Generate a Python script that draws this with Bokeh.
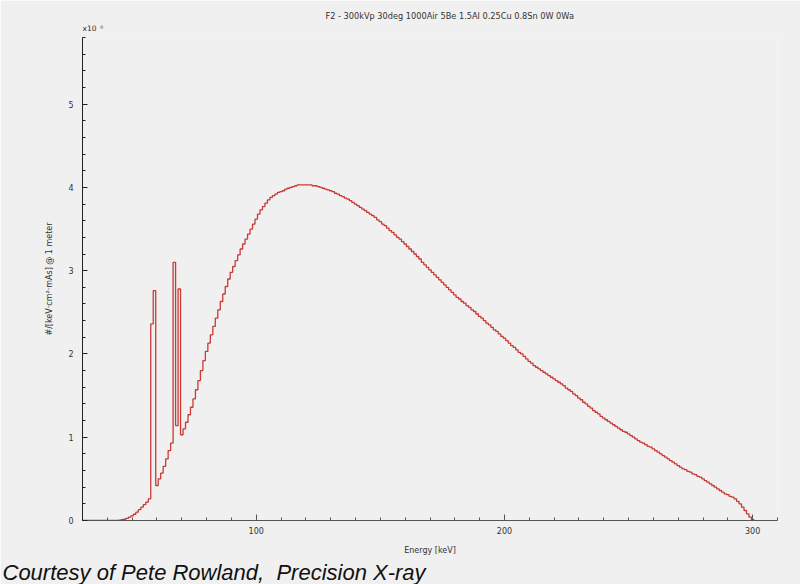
import math
from bokeh.plotting import figure
from bokeh.models import Range1d, SingleIntervalTicker, Title, ColumnDataSource
from bokeh.embed import file_html
from bokeh.resources import INLINE

# ---- data (spectrum, 1 keV bins centred on integer energies; values in units of 1e6) ----
energy_kev = list(range(30, 301))
counts_e6 = (
    [0.0] * 15 +                                                        # 30-44
    [0.005, 0.01, 0.015, 0.025, 0.04, 0.055, 0.075, 0.10, 0.13, 0.16, 0.19, 0.22, 0.26] +  # 45-57
    [2.36, 2.76] +                                                      # 58-59 (K-alpha)
    [0.42, 0.50, 0.57, 0.65, 0.74, 0.84, 0.93] +                        # 60-66
    [3.10, 1.14, 2.78, 1.03] +                                          # 67-70 (K-beta)
    [1.10, 1.18, 1.27, 1.36, 1.46, 1.57, 1.68, 1.80, 1.92, 2.03] +      # 71-80
    [2.13, 2.23, 2.33, 2.43, 2.53, 2.63, 2.72, 2.81, 2.90, 2.98] +      # 81-90
    [3.05, 3.12, 3.19, 3.26, 3.32, 3.38, 3.44, 3.50, 3.56, 3.62] +      # 91-100
    [3.68, 3.73, 3.77, 3.81, 3.85, 3.88, 3.90, 3.92, 3.94, 3.95] +      # 101-110
    [3.96, 3.98, 3.99, 4.00, 4.01, 4.02, 4.03, 4.03, 4.03, 4.03] +      # 111-120
    [4.03, 4.03, 4.02, 4.02, 4.01, 4.00, 3.99, 3.98, 3.97, 3.96] +      # 121-130
    [3.95, 3.93, 3.92, 3.90, 3.89, 3.87, 3.86, 3.84, 3.82, 3.80] +      # 131-140
    [3.78, 3.76, 3.74, 3.72, 3.70, 3.68, 3.66, 3.64, 3.61, 3.59] +      # 141-150
    [3.56, 3.54, 3.51, 3.48, 3.46, 3.43, 3.40, 3.38, 3.35, 3.32] +      # 151-160
    [3.29, 3.26, 3.23, 3.20, 3.17, 3.14, 3.10, 3.07, 3.04, 3.01] +      # 161-170
    [2.98, 2.95, 2.92, 2.89, 2.86, 2.83, 2.80, 2.77, 2.74, 2.71] +      # 171-180
    [2.68, 2.66, 2.63, 2.61, 2.58, 2.56, 2.53, 2.51, 2.48, 2.45] +      # 181-190
    [2.43, 2.40, 2.37, 2.35, 2.32, 2.29, 2.27, 2.24, 2.21, 2.19] +      # 191-200
    [2.16, 2.13, 2.10, 2.08, 2.05, 2.02, 2.00, 1.97, 1.94, 1.91] +      # 201-210
    [1.89, 1.86, 1.84, 1.82, 1.80, 1.78, 1.76, 1.74, 1.72, 1.70] +      # 211-220
    [1.68, 1.66, 1.64, 1.62, 1.59, 1.57, 1.55, 1.52, 1.50, 1.47] +      # 221-230
    [1.45, 1.42, 1.40, 1.37, 1.35, 1.32, 1.30, 1.28, 1.25, 1.23] +      # 231-240
    [1.21, 1.19, 1.17, 1.15, 1.13, 1.11, 1.09, 1.07, 1.06, 1.04] +      # 241-250
    [1.02, 1.00, 0.98, 0.96, 0.94, 0.93, 0.91, 0.89, 0.88, 0.86] +      # 251-260
    [0.84, 0.82, 0.80, 0.78, 0.76, 0.74, 0.72, 0.70, 0.68, 0.66] +      # 261-270
    [0.64, 0.62, 0.61, 0.59, 0.58, 0.56, 0.55, 0.53, 0.52, 0.50] +      # 271-280
    [0.48, 0.46, 0.44, 0.42, 0.40, 0.38, 0.36, 0.34, 0.32, 0.31] +      # 281-290
    [0.29, 0.28, 0.26, 0.23, 0.20, 0.16, 0.12, 0.08, 0.04, 0.01]        # 291-300
)
assert len(counts_e6) == len(energy_kev)

title_text = "F2 - 300kVp 30deg 1000Air 5Be 1.5Al 0.25Cu 0.8Sn 0W 0Wa"
x_label = "Energy [keV]"
y_label = "#/[keV\u00b7cm\u00b2\u00b7mAs] @ 1 meter"
caption = "Courtesy of Pete Rowland,\u00a0 Precision X-ray"
scale_text = "x10\u2002\u2076"

BG = "#f0f0f0"
TXT = "#333333"
RED = "#c93a36"
FONT = "DejaVu Sans"

p = figure(width=800, height=584, output_backend="svg", toolbar_location=None,
           x_range=Range1d(30, 310), y_range=Range1d(0, 5.8),
           min_border_left=82, min_border_right=23, min_border_top=37, min_border_bottom=63)
p.background_fill_color = BG
p.border_fill_color = BG
p.outline_line_color = None
p.grid.visible = False

# bin edges -> step line (after mode), closing to zero at the last edge
edges = [e - 0.5 for e in energy_kev] + [energy_kev[-1] + 0.5]
ys = list(counts_e6) + [0.0]
src = ColumnDataSource(dict(x=edges, y=ys))
p.step("x", "y", source=src, mode="after", line_color=RED, line_width=1.3)

xa = p.xaxis[0]
xa.ticker = SingleIntervalTicker(interval=100, num_minor_ticks=10)
xa.axis_line_color = "#555555"
xa.major_tick_line_color = "#555555"
xa.minor_tick_line_color = "#555555"
xa.major_tick_in = 6
xa.major_tick_out = 0
xa.minor_tick_in = 3
xa.minor_tick_out = 0
xa.major_label_text_font = FONT
xa.major_label_text_font_size = "8px"
xa.major_label_text_color = TXT
xa.major_label_standoff = 6
xa.axis_label = x_label
xa.axis_label_text_font = FONT
xa.axis_label_text_font_size = "8px"
xa.axis_label_text_font_style = "normal"
xa.axis_label_text_color = TXT
xa.axis_label_standoff = 9

ya = p.yaxis[0]
ya.ticker = SingleIntervalTicker(interval=1, num_minor_ticks=5)
ya.axis_line_color = "#222222"
ya.major_tick_line_color = "#222222"
ya.minor_tick_line_color = "#222222"
ya.major_tick_in = 5
ya.major_tick_out = 0
ya.minor_tick_in = 3
ya.minor_tick_out = 0
ya.major_label_text_font = FONT
ya.major_label_text_font_size = "8px"
ya.major_label_text_color = TXT
ya.major_label_standoff = 9
ya.axis_label = y_label
ya.axis_label_text_font = FONT
ya.axis_label_text_font_size = "8px"
ya.axis_label_text_font_style = "normal"
ya.axis_label_text_color = TXT
ya.axis_label_standoff = 11

# titles above the frame (nearest frame first)
p.add_layout(Title(text=scale_text, align="left", offset=0, standoff=6, vertical_align="top",
                   text_font=FONT, text_font_size="7.5px", text_font_style="normal",
                   text_color=TXT), "above")
p.add_layout(Title(text=title_text, align="left", offset=243, standoff=0,
                   text_font=FONT, text_font_size="8.2px", text_font_style="normal",
                   text_color=TXT), "above")

# caption below the axis
p.add_layout(Title(text=caption, align="left", offset=-80, standoff=0,
                   text_font="Liberation Sans", text_font_size="22px",
                   text_font_style="italic", text_color="#111111"), "below")

open("out.html", "w").write(file_html(p, INLINE))
